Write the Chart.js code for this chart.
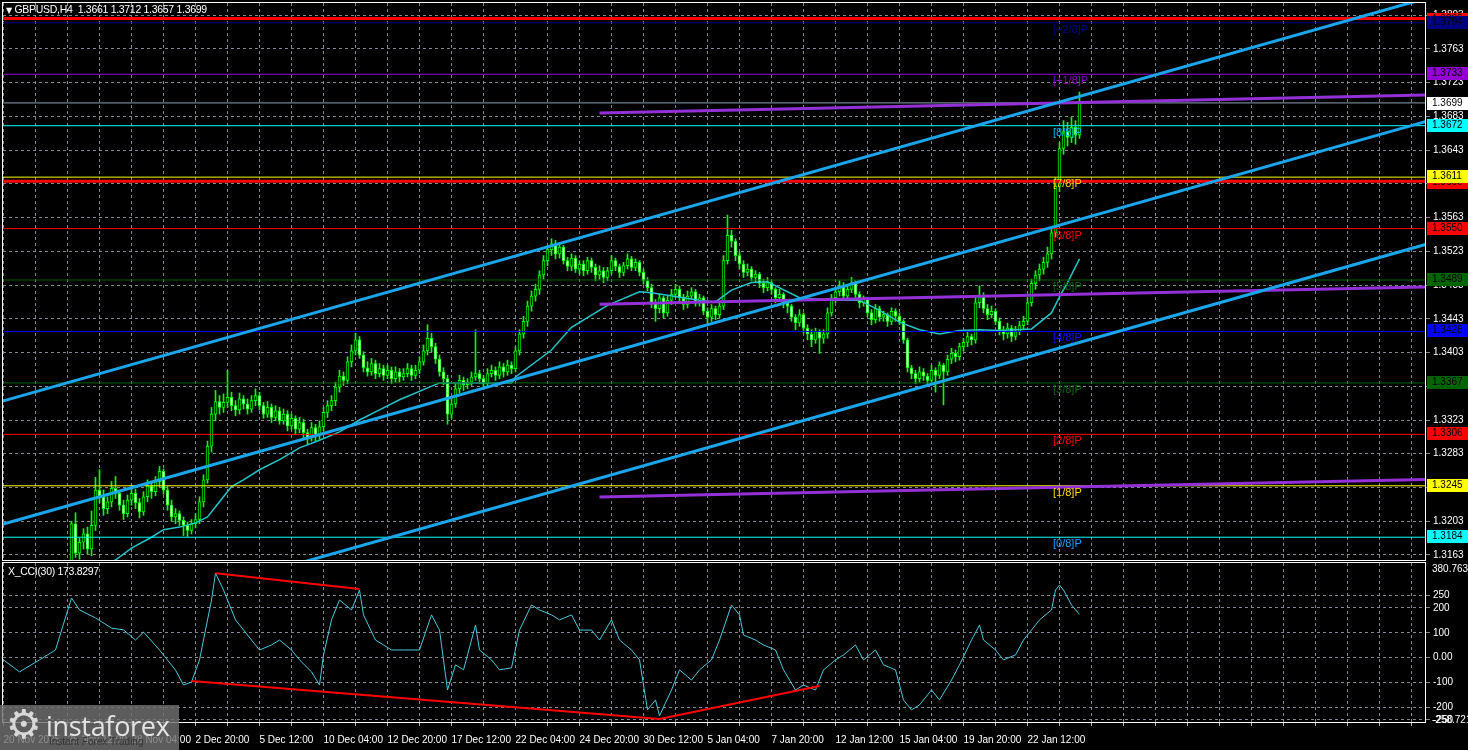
<!DOCTYPE html><html lang="en"><head>
<meta charset="UTF-8">
<title>GBPUSD H4</title>
<script src="https://cdn.jsdelivr.net/npm/chart.js@4.4.1/dist/chart.umd.min.js"></script>
<style>
  html, body { margin: 0; padding: 0; background: #000; }
  body { width: 1468px; height: 750px; position: relative; overflow: hidden; font-family: 'Liberation Sans', Arial, sans-serif; }
  canvas { position: absolute; left: 0; }
  #priceChart { top: 0; }
  #cciChart { top: 560px; }
  .caption { position: absolute; color: #fff; font-size: 10.5px; white-space: pre; letter-spacing: -0.3px; }
  #wm { position: absolute; left: 0; top: 705px; width: 179px; height: 45px; background: rgba(112,112,112,0.82); }
  #wm .gear { position: absolute; left: 6px; top: -4px; font-size: 40px; color: #d8d8d8; font-family: 'DejaVu Sans'; }
  #wm .brand { position: absolute; left: 46px; top: 2px; font-size: 27px; color: #e4e4e4; font-family: 'Open Sans'; letter-spacing: -0.3px; }
  #wm .slogan { position: absolute; left: 49px; top: 31px; font-size: 10px; color: #333; }
</style>
</head>
<body>
<canvas id="priceChart" width="1468" height="562"></canvas>
<canvas id="cciChart" width="1468" height="190"></canvas>
<div class="caption" style="left:6px;top:3px;"><span style="font-size:8px;font-family:'DejaVu Sans'">▼</span> GBPUSD,H4  1.3661 1.3712 1.3657 1.3699</div>
<div class="caption" style="left:8px;top:565px;">X_CCI(30) 173.8297</div>
<div id="wm"><span class="gear">⚙</span><span class="brand">instaforex</span><span class="slogan">Instant Forex Trading</span></div>

<script>
// H4 bars, one every 4 px; labels every 16 bars
const timeLabels = ['20 Nov 2025', '25 Nov 12:00', '28 Nov 04:00', '2 Dec 20:00', '5 Dec 12:00', '10 Dec 04:00',
  '12 Dec 20:00', '17 Dec 12:00', '22 Dec 04:00', '24 Dec 20:00', '30 Dec 12:00', '5 Jan 04:00',
  '7 Jan 20:00', '12 Jan 12:00', '15 Jan 04:00', '19 Jan 20:00', '22 Jan 12:00'];

const opens = [
  1.3100,1.3105,1.3098,1.3112,1.3120,1.3131,1.3118,1.3126,1.3110,1.3103,
  1.3116,1.3121,1.3129,1.3136,1.3141,1.3133,1.3146,1.3150,1.3200,1.3165,
  1.3178,1.3188,1.3170,1.3198,1.3240,1.3232,1.3218,1.3226,1.3242,1.3236,
  1.3222,1.3212,1.3228,1.3236,1.3225,1.3214,1.3232,1.3245,1.3238,1.3250,
  1.3262,1.3240,1.3222,1.3208,1.3212,1.3204,1.3198,1.3192,1.3200,1.3205,
  1.3226,1.3252,1.3292,1.3330,1.3345,1.3338,1.3344,1.3350,1.3340,1.3335,
  1.3348,1.3342,1.3336,1.3346,1.3352,1.3340,1.3330,1.3338,1.3326,1.3334,
  1.3322,1.3330,1.3316,1.3325,1.3312,1.3320,1.3308,1.3302,1.3314,1.3305,
  1.3315,1.3332,1.3340,1.3346,1.3362,1.3375,1.3370,1.3392,1.3405,1.3418,
  1.3400,1.3385,1.3380,1.3390,1.3378,1.3384,1.3376,1.3382,1.3372,1.3380,
  1.3374,1.3378,1.3384,1.3376,1.3382,1.3392,1.3405,1.3420,1.3410,1.3395,
  1.3380,1.3372,1.3330,1.3342,1.3360,1.3370,1.3365,1.3368,1.3374,1.3378,
  1.3372,1.3366,1.3378,1.3382,1.3376,1.3386,1.3380,1.3388,1.3384,1.3405,
  1.3425,1.3440,1.3458,1.3470,1.3478,1.3495,1.3512,1.3525,1.3532,1.3520,
  1.3528,1.3512,1.3505,1.3515,1.3502,1.3508,1.3500,1.3512,1.3504,1.3495,
  1.3500,1.3492,1.3500,1.3512,1.3505,1.3498,1.3506,1.3514,1.3504,1.3510,
  1.3498,1.3488,1.3480,1.3462,1.3455,1.3468,1.3450,1.3465,1.3472,1.3478,
  1.3468,1.3460,1.3470,1.3475,1.3462,1.3468,1.3452,1.3445,1.3455,1.3448,
  1.3458,1.3512,1.3542,1.3535,1.3518,1.3508,1.3498,1.3502,1.3492,1.3496,
  1.3485,1.3480,1.3486,1.3478,1.3468,1.3472,1.3462,1.3458,1.3445,1.3438,
  1.3448,1.3432,1.3425,1.3418,1.3428,1.3420,1.3425,1.3450,1.3468,1.3475,
  1.3482,1.3470,1.3478,1.3485,1.3472,1.3462,1.3466,1.3450,1.3442,1.3455,
  1.3445,1.3448,1.3440,1.3452,1.3446,1.3440,1.3418,1.3385,1.3378,1.3372,
  1.3380,1.3375,1.3370,1.3382,1.3376,1.3388,1.3380,1.3395,1.3402,1.3398,
  1.3410,1.3415,1.3422,1.3418,1.3462,1.3470,1.3455,1.3448,1.3452,1.3440,
  1.3430,1.3425,1.3432,1.3422,1.3428,1.3435,1.3440,1.3462,1.3485,1.3495,
  1.3502,1.3510,1.3520,1.3545,1.3600,1.3645,1.3665,1.3658,1.3670,1.3661];
const highs = [
  1.3112,1.3110,1.3118,1.3126,1.3138,1.3135,1.3130,1.3129,1.3114,1.3120,
  1.3125,1.3134,1.3142,1.3148,1.3145,1.3150,1.3155,1.3203,1.3213,1.3183,
  1.3194,1.3196,1.3215,1.3255,1.3264,1.3240,1.3232,1.3250,1.3256,1.3240,
  1.3228,1.3234,1.3245,1.3241,1.3230,1.3238,1.3252,1.3250,1.3256,1.3268,
  1.3265,1.3244,1.3228,1.3218,1.3215,1.3208,1.3202,1.3205,1.3212,1.3232,
  1.3258,1.3298,1.3338,1.3358,1.3352,1.3354,1.3382,1.3356,1.3346,1.3355,
  1.3352,1.3348,1.3352,1.3360,1.3356,1.3344,1.3345,1.3342,1.3340,1.3338,
  1.3336,1.3334,1.3330,1.3328,1.3326,1.3324,1.3312,1.3320,1.3318,1.3322,
  1.3338,1.3346,1.3352,1.3368,1.3382,1.3380,1.3398,1.3412,1.3426,1.3422,
  1.3404,1.3392,1.3396,1.3394,1.3390,1.3388,1.3388,1.3386,1.3386,1.3384,
  1.3384,1.3390,1.3388,1.3388,1.3398,1.3412,1.3436,1.3426,1.3414,1.3400,
  1.3385,1.3376,1.3348,1.3366,1.3376,1.3374,1.3372,1.3380,1.3430,1.3382,
  1.3376,1.3384,1.3388,1.3386,1.3392,1.3390,1.3394,1.3392,1.3410,1.3430,
  1.3446,1.3464,1.3476,1.3484,1.3500,1.3518,1.3530,1.3538,1.3536,1.3532,
  1.3530,1.3516,1.3520,1.3518,1.3512,1.3512,1.3516,1.3515,1.3508,1.3506,
  1.3504,1.3504,1.3518,1.3515,1.3508,1.3510,1.3520,1.3517,1.3514,1.3512,
  1.3502,1.3492,1.3484,1.3466,1.3472,1.3470,1.3470,1.3478,1.3484,1.3482,
  1.3472,1.3476,1.3480,1.3478,1.3472,1.3470,1.3456,1.3460,1.3458,1.3462,
  1.3518,1.3566,1.3548,1.3538,1.3522,1.3512,1.3508,1.3505,1.3500,1.3498,
  1.3490,1.3492,1.3488,1.3480,1.3478,1.3474,1.3466,1.3460,1.3448,1.3454,
  1.3450,1.3436,1.3430,1.3432,1.3430,1.3430,1.3456,1.3472,1.3480,1.3488,
  1.3486,1.3482,1.3492,1.3488,1.3475,1.3470,1.3468,1.3454,1.3460,1.3458,
  1.3452,1.3450,1.3456,1.3455,1.3450,1.3442,1.3420,1.3388,1.3382,1.3386,
  1.3384,1.3378,1.3388,1.3385,1.3392,1.3390,1.3400,1.3408,1.3406,1.3414,
  1.3420,1.3428,1.3425,1.3468,1.3482,1.3474,1.3460,1.3458,1.3455,1.3444,
  1.3434,1.3438,1.3435,1.3434,1.3440,1.3446,1.3468,1.3490,1.3500,1.3508,
  1.3516,1.3528,1.3552,1.3610,1.3652,1.3678,1.3676,1.3682,1.3678,1.3712];
const lows = [
  1.3094,1.3090,1.3095,1.3108,1.3116,1.3112,1.3114,1.3105,1.3098,1.3100,
  1.3111,1.3117,1.3124,1.3130,1.3128,1.3130,1.3138,1.3140,1.3160,1.3158,
  1.3170,1.3164,1.3162,1.3192,1.3225,1.3210,1.3212,1.3220,1.3230,1.3216,
  1.3205,1.3208,1.3222,1.3218,1.3207,1.3210,1.3226,1.3230,1.3233,1.3244,
  1.3235,1.3216,1.3203,1.3200,1.3198,1.3186,1.3185,1.3188,1.3195,1.3200,
  1.3220,1.3248,1.3285,1.3322,1.3330,1.3332,1.3338,1.3334,1.3328,1.3330,
  1.3336,1.3330,1.3332,1.3340,1.3335,1.3325,1.3326,1.3320,1.3322,1.3318,
  1.3318,1.3310,1.3312,1.3306,1.3308,1.3302,1.3294,1.3298,1.3298,1.3300,
  1.3310,1.3326,1.3334,1.3340,1.3356,1.3364,1.3366,1.3386,1.3400,1.3396,
  1.3380,1.3375,1.3376,1.3372,1.3374,1.3370,1.3372,1.3366,1.3368,1.3368,
  1.3370,1.3374,1.3370,1.3372,1.3378,1.3388,1.3400,1.3404,1.3390,1.3375,
  1.3365,1.3318,1.3325,1.3338,1.3355,1.3358,1.3360,1.3364,1.3370,1.3366,
  1.3360,1.3362,1.3374,1.3370,1.3372,1.3374,1.3376,1.3378,1.3380,1.3400,
  1.3420,1.3434,1.3452,1.3464,1.3472,1.3490,1.3506,1.3518,1.3514,1.3515,
  1.3508,1.3500,1.3500,1.3498,1.3496,1.3494,1.3496,1.3498,1.3488,1.3490,
  1.3486,1.3488,1.3496,1.3500,1.3492,1.3494,1.3502,1.3500,1.3500,1.3494,
  1.3484,1.3476,1.3456,1.3440,1.3450,1.3444,1.3446,1.3460,1.3468,1.3462,
  1.3454,1.3456,1.3466,1.3458,1.3458,1.3448,1.3438,1.3440,1.3442,1.3444,
  1.3454,1.3508,1.3528,1.3512,1.3502,1.3492,1.3494,1.3488,1.3486,1.3480,
  1.3474,1.3476,1.3472,1.3462,1.3464,1.3456,1.3450,1.3440,1.3430,1.3434,
  1.3426,1.3418,1.3410,1.3414,1.3402,1.3414,1.3420,1.3446,1.3462,1.3470,
  1.3466,1.3466,1.3474,1.3468,1.3456,1.3458,1.3446,1.3436,1.3438,1.3440,
  1.3440,1.3434,1.3436,1.3440,1.3436,1.3414,1.3380,1.3372,1.3366,1.3368,
  1.3370,1.3364,1.3366,1.3356,1.3372,1.3341,1.3376,1.3390,1.3392,1.3394,
  1.3405,1.3410,1.3412,1.3414,1.3456,1.3450,1.3442,1.3444,1.3436,1.3424,
  1.3418,1.3420,1.3416,1.3418,1.3424,1.3430,1.3436,1.3458,1.3478,1.3488,
  1.3496,1.3504,1.3514,1.3540,1.3594,1.3638,1.3648,1.3652,1.3650,1.3657];
const closes = [
  1.3105,1.3098,1.3112,1.3120,1.3131,1.3118,1.3126,1.3110,1.3103,1.3116,
  1.3121,1.3129,1.3136,1.3141,1.3133,1.3146,1.3150,1.3200,1.3165,1.3178,
  1.3188,1.3170,1.3198,1.3240,1.3232,1.3218,1.3226,1.3242,1.3236,1.3222,
  1.3212,1.3228,1.3236,1.3225,1.3214,1.3232,1.3245,1.3238,1.3250,1.3262,
  1.3240,1.3222,1.3208,1.3212,1.3204,1.3198,1.3192,1.3200,1.3205,1.3226,
  1.3252,1.3292,1.3330,1.3345,1.3338,1.3344,1.3350,1.3340,1.3335,1.3348,
  1.3342,1.3336,1.3346,1.3352,1.3340,1.3330,1.3338,1.3326,1.3334,1.3322,
  1.3330,1.3316,1.3325,1.3312,1.3320,1.3308,1.3302,1.3314,1.3305,1.3315,
  1.3332,1.3340,1.3346,1.3362,1.3375,1.3370,1.3392,1.3405,1.3418,1.3400,
  1.3385,1.3380,1.3390,1.3378,1.3384,1.3376,1.3382,1.3372,1.3380,1.3374,
  1.3378,1.3384,1.3376,1.3382,1.3392,1.3405,1.3420,1.3410,1.3395,1.3380,
  1.3372,1.3330,1.3342,1.3360,1.3370,1.3365,1.3368,1.3374,1.3378,1.3372,
  1.3366,1.3378,1.3382,1.3376,1.3386,1.3380,1.3388,1.3384,1.3405,1.3425,
  1.3440,1.3458,1.3470,1.3478,1.3495,1.3512,1.3525,1.3532,1.3520,1.3528,
  1.3512,1.3505,1.3515,1.3502,1.3508,1.3500,1.3512,1.3504,1.3495,1.3500,
  1.3492,1.3500,1.3512,1.3505,1.3498,1.3506,1.3514,1.3504,1.3510,1.3498,
  1.3488,1.3480,1.3462,1.3455,1.3468,1.3450,1.3465,1.3472,1.3478,1.3468,
  1.3460,1.3470,1.3475,1.3462,1.3468,1.3452,1.3445,1.3455,1.3448,1.3458,
  1.3512,1.3542,1.3535,1.3518,1.3508,1.3498,1.3502,1.3492,1.3496,1.3485,
  1.3480,1.3486,1.3478,1.3468,1.3472,1.3462,1.3458,1.3445,1.3438,1.3448,
  1.3432,1.3425,1.3418,1.3428,1.3420,1.3425,1.3450,1.3468,1.3475,1.3482,
  1.3470,1.3478,1.3485,1.3472,1.3462,1.3466,1.3450,1.3442,1.3455,1.3445,
  1.3448,1.3440,1.3452,1.3446,1.3440,1.3418,1.3385,1.3378,1.3372,1.3380,
  1.3375,1.3370,1.3382,1.3376,1.3388,1.3380,1.3395,1.3402,1.3398,1.3410,
  1.3415,1.3422,1.3418,1.3462,1.3470,1.3455,1.3448,1.3452,1.3440,1.3430,
  1.3425,1.3432,1.3422,1.3428,1.3435,1.3440,1.3462,1.3485,1.3495,1.3502,
  1.3510,1.3520,1.3545,1.3600,1.3645,1.3665,1.3658,1.3670,1.3661,1.3699];

// moving average (bar index, price)
const maBars = [24, 28, 32, 37, 40, 44, 48, 51, 54, 57, 60, 64, 69, 74, 79, 84, 89, 94, 99, 109, 127, 128, 137, 142,
  151, 159, 162, 174, 178, 182, 187, 191, 199, 207, 214, 219, 224, 229, 234, 239, 244, 249, 257, 262, 264, 266, 269];
const maValues = [1.3148, 1.3157, 1.3171, 1.3184, 1.3193, 1.3196, 1.3201, 1.3208, 1.3226, 1.3244, 1.3252, 1.3264,
  1.3276, 1.3290, 1.3299, 1.3309, 1.3323, 1.3335, 1.3347, 1.3367, 1.3367, 1.3374, 1.3406, 1.3433,
  1.3459, 1.3475, 1.3474, 1.3465, 1.3463, 1.3477, 1.3486, 1.3487, 1.3468, 1.3465, 1.3465, 1.3453,
  1.3439, 1.3430, 1.3425, 1.3429, 1.3430, 1.3429, 1.3431, 1.3450, 1.3469, 1.3486, 1.3514];

// CCI(30)
const cciBars = [0, 4, 9, 13, 17, 19, 23, 27, 30, 33, 35, 39, 43, 45, 47, 49, 52, 53, 55, 58, 62, 64, 67, 69, 72, 74,
  77, 79, 80, 82, 84, 87, 89, 90, 93, 97, 100, 104, 107, 109, 111, 113, 115, 118, 119, 122, 124, 127, 129, 132,
  134, 137, 139, 142, 144, 147, 149, 152, 154, 157, 159, 161, 163, 164, 167, 169, 172, 174, 177, 179, 182, 184,
  185, 188, 190, 193, 195, 198, 200, 203, 205, 208, 210, 213, 215, 218, 220, 223, 225, 227, 229, 232, 234, 237,
  239, 242, 244, 245, 248, 250, 253, 255, 257, 259, 262, 263, 264, 265, 267, 269];
const cciValues = [-9, -57, -9, 31, 240, 192, 160, 119, 112, 71, 103, 31, -50, -110, -98, -9, 232, 340, 272, 152, 71,
  31, 51, 71, 31, -9, -57, -110, 11, 152, 232, 192, 272, 172, 71, 31, 31, 31, 172, 111, -130, -29, -49, 131, 31,
  -9, -49, -41, 111, 212, 192, 172, 152, 172, 111, 111, 71, 152, 71, 31, -9, -210, -170, -234, -130, -49, -90,
  -49, -9, 71, 212, 172, 91, 71, 51, 31, -49, -130, -110, -130, -49, -9, 11, 51, -9, 31, -29, -49, -170, -210,
  -190, -130, -170, -90, -29, 71, 131, 71, 31, -9, 11, 71, 111, 152, 192, 272, 292, 272, 212, 174];

// divergence lines on the CCI panel: [bar, value] pairs
const cciTrendLines = [
  [[53, 340], [89, 276]],
  [[47, -94], [164, -247]],
  [[164, -247], [204, -114]]
];

const priceTicks = [1.3163, 1.3203, 1.3243, 1.3283, 1.3323, 1.3363, 1.3403, 1.3443, 1.3483,
  1.3523, 1.3563, 1.3603, 1.3643, 1.3683, 1.3723, 1.3763, 1.3803];
const cciTicks = [-250, -200, -100, 0, 100, 200, 250];

const murrayLevels = [1.3794, 1.3733, 1.3672, 1.3611, 1.3550, 1.3489, 1.3428, 1.3367, 1.3306, 1.3245, 1.3184];
const murrayNames = ['[+2/8]P', '[+1/8]P', '[8/8]P', '[7/8]P', '[6/8]P', '[5/8]P', '[4/8]P', '[3/8]P', '[2/8]P', '[1/8]P', '[0/8]P'];
const redLevels = [1.3799, 1.3606];
const lastPrice = 1.3699;

// regression channel and purple trend lines: [bar, price] end points
const channelLines = [
  [[-1, 1.33443], [356, 1.38235]],
  [[-1, 1.31984], [356, 1.36776]],
  [[-1, 1.30526], [356, 1.35318]]
];
const purpleLines = [
  [[149, 1.36871], [356, 1.37085]],
  [[149, 1.34603], [356, 1.34808]],
  [[149, 1.32317], [356, 1.32525]]
];

// colours
const LIME = '#00ff00';
const GRID = '#7d8893';
const murrayLineColors = ['#000080', '#9400d3', '#00ffff', '#ffff00', '#ff0000', '#006400', '#0000ff', '#006400', '#ff0000', '#ffff00', '#00ffff'];
const murrayTextColors = ['#000090', '#8a00c8', '#00b8ff', '#ffcc00', '#ff0000', '#0a640a', '#1010ff', '#0a640a', '#ff0000', '#ffdd00', '#1aa0ff'];
const murrayLabelBg = ['#000080', '#9400d3', '#00ffff', '#ffff00', '#ff0000', '#006400', '#0000ff', '#006400', '#ff0000', '#ffff00', '#00ffff'];

const FONT = { family: 'Liberation Sans', size: 10 };

function segment(points, color, width, order) {
  return {
    type: 'line', data: points.map(p => ({ x: p[0], y: p[1] })),
    borderColor: color, borderWidth: width, pointRadius: 0, fill: false, tension: 0, order: order
  };
}

function noPadding(s) {
  s.paddingTop = 0; s.paddingBottom = 0; s.paddingLeft = 0; s.paddingRight = 0;
}

function xGrid(showLabels) {
  return {
    type: 'linear', min: -0.125, max: 355.375, offset: false,
    afterBuildTicks: s => { const t = []; for (let v = 0; v <= 352; v += 8) t.push({ value: v }); s.ticks = t; },
    afterFit: s => { s.height = showLabels ? 28 : 0; noPadding(s); },
    ticks: {
      display: showLabels, autoSkip: false, maxRotation: 0, minRotation: 0, align: 'start',
      color: '#fff', font: FONT, padding: 8,
      callback: v => (v % 16 === 0 && v / 16 < timeLabels.length) ? timeLabels[v / 16] : ''
    },
    grid: { color: GRID, drawTicks: showLabels, tickLength: 4, tickColor: '#aaa', offset: false },
    border: { display: false, dash: [3, 3] }
  };
}

const framePlugin = {
  id: 'frame',
  afterDraw(chart) {
    const a = chart.chartArea, ctx = chart.ctx;
    ctx.save();
    ctx.strokeStyle = '#fff';
    ctx.lineWidth = 1;
    ctx.strokeRect(a.left - 0.5, a.top - 0.5, a.right - a.left + 1, a.bottom - a.top + 1);
    ctx.restore();
  }
};

function priceLabel(ctx, y, text, bg, fg) {
  ctx.fillStyle = bg;
  ctx.fillRect(1427, Math.round(y) - 6, 41, 13);
  ctx.fillStyle = fg;
  ctx.fillText(text, 1432, Math.round(y) + 0.5);
}

const priceLabelsPlugin = {
  id: 'priceLabels',
  afterDraw(chart) {
    const ctx = chart.ctx, ys = chart.scales.y;
    ctx.save();
    ctx.textBaseline = 'middle';
    // Murray level names inside the plot
    ctx.font = '11px "Liberation Sans"';
    murrayLevels.forEach((lv, i) => {
      ctx.fillStyle = murrayTextColors[i];
      ctx.fillText(murrayNames[i], 1053, ys.getPixelForValue(lv) + 7);
    });
    ctx.font = '10px "Liberation Sans"';
    // price boxes on the right scale (later ones cover earlier ones)
    priceLabel(ctx, ys.getPixelForValue(murrayLevels[0]) - 4, '1.3803', '#ff0000', '#000');
    priceLabel(ctx, ys.getPixelForValue(redLevels[1]) + 1, redLevels[1].toFixed(4), '#ff0000', '#000');
    murrayLevels.forEach((lv, i) => {
      priceLabel(ctx, ys.getPixelForValue(lv) - 1, lv.toFixed(4), murrayLabelBg[i], '#000');
    });
    priceLabel(ctx, ys.getPixelForValue(lastPrice), lastPrice.toFixed(4), '#ffffff', '#000');
    ctx.restore();
  }
};

const cciLabelsPlugin = {
  id: 'cciLabels',
  afterDraw(chart) {
    const ctx = chart.ctx, a = chart.chartArea;
    ctx.save();
    ctx.font = '10px "Liberation Sans"';
    ctx.textBaseline = 'middle';
    ctx.fillStyle = '#fff';
    ctx.fillText('380.7633', 1432, a.top + 6);
    ctx.fillText('-258.7215', 1432, a.bottom - 2);
    ctx.restore();
  }
};

// ---- price chart ----
const wicks = closes.map((c, i) => ({ x: i, y: [lows[i], highs[i]] }));
const bodies = closes.map((c, i) => ({ x: i, y: [Math.min(opens[i], c), Math.max(opens[i], c)] }));

const priceDatasets = [
  { type: 'bar', data: wicks, backgroundColor: LIME, barThickness: 1, grouped: false, order: 20 },
  {
    type: 'bar', data: bodies, barThickness: 3, grouped: false, order: 19, minBarLength: 1,
    borderWidth: 1, borderColor: LIME, borderSkipped: false,
    backgroundColor: ctx => closes[ctx.dataIndex] >= opens[ctx.dataIndex] ? '#000' : '#fff'
  },
  segment(maBars.map((b, i) => [b, maValues[i]]), '#26c4c8', 1.5, 10)
];
murrayLevels.forEach((lv, i) => priceDatasets.push(segment([[-2, lv], [360, lv]], murrayLineColors[i], 1, 8)));
priceDatasets.push(segment([[-2, lastPrice], [360, lastPrice]], '#8fa0b2', 1, 7));
redLevels.forEach(lv => priceDatasets.push(segment([[-2, lv], [360, lv]], '#ff0000', 3, 6)));
purpleLines.forEach(l => priceDatasets.push(segment(l, '#9430d8', 3, 5)));
channelLines.forEach(l => priceDatasets.push(segment(l, '#1ba6ec', 3, 4)));

new Chart(document.getElementById('priceChart'), {
  data: { datasets: priceDatasets },
  options: {
    responsive: false, animation: false, devicePixelRatio: 1, events: [],
    layout: { padding: { left: 3, top: 3, right: 0, bottom: 2 } },
    plugins: { legend: { display: false }, tooltip: { enabled: false } },
    scales: {
      x: xGrid(false),
      y: {
        position: 'right', min: 1.31570, max: 1.38175,
        afterBuildTicks: s => { s.ticks = priceTicks.map(v => ({ value: v })); },
        afterFit: s => { s.width = 43; noPadding(s); },
        ticks: { color: '#fff', font: FONT, padding: 3, callback: v => v.toFixed(4) },
        grid: { color: GRID, drawTicks: true, tickLength: 5 },
        border: { display: false, dash: [3, 3] }
      }
    }
  },
  plugins: [framePlugin, priceLabelsPlugin]
});

// ---- CCI chart ----
const cciDatasets = [
  segment(cciBars.map((b, i) => [b, cciValues[i]]), '#4fc6dc', 1, 5)
];
cciTrendLines.forEach(l => cciDatasets.push(segment(l, '#ff0000', 2, 2)));

new Chart(document.getElementById('cciChart'), {
  data: { datasets: cciDatasets },
  options: {
    responsive: false, animation: false, devicePixelRatio: 1, events: [],
    layout: { padding: { left: 3, top: 3, right: 0, bottom: 0 } },
    plugins: { legend: { display: false }, tooltip: { enabled: false } },
    scales: {
      x: xGrid(true),
      y: {
        position: 'right', min: -258.7215, max: 380.7633,
        afterBuildTicks: s => { s.ticks = cciTicks.map(v => ({ value: v })); },
        afterFit: s => { s.width = 43; noPadding(s); },
        ticks: { color: '#fff', font: FONT, padding: 3, callback: v => v === 0 ? '0.00' : String(v) },
        grid: { color: GRID, drawTicks: true, tickLength: 5 },
        border: { display: false, dash: [3, 3] }
      }
    }
  },
  plugins: [framePlugin, cciLabelsPlugin]
});
</script>
</body></html>
